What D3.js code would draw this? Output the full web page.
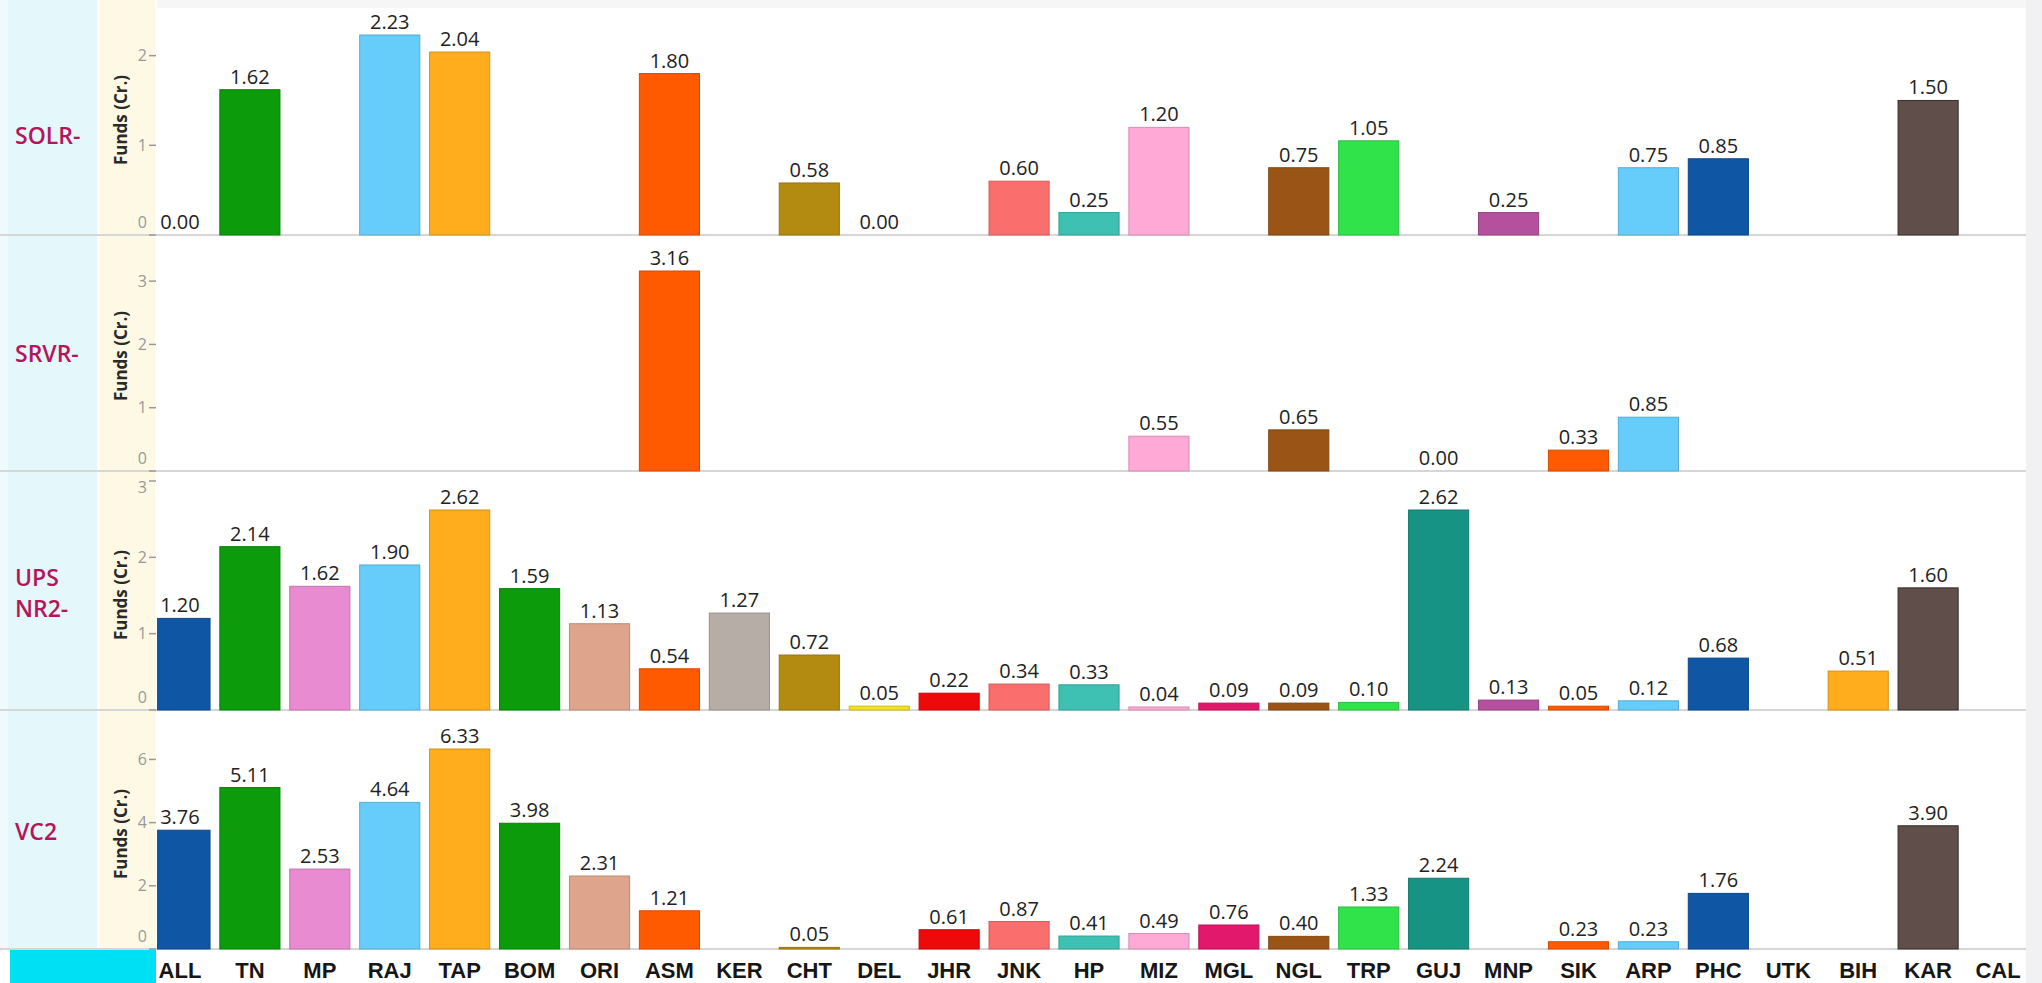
<!DOCTYPE html>
<html>
<head>
<meta charset="utf-8">
<script src="https://cdn.jsdelivr.net/npm/d3@7"></script>
<style>
  html, body { margin: 0; padding: 0; background: #ffffff; }
  svg { display: block; }
</style>
</head>
<body>
<svg id="chart" width="2042" height="983"></svg>
<script>
// ---------------- DATA ----------------
const categories = ["ALL","TN","MP","RAJ","TAP","BOM","ORI","ASM","KER","CHT","DEL","JHR","JNK","HP","MIZ","MGL","NGL","TRP","GUJ","MNP","SIK","ARP","PHC","UTK","BIH","KAR","CAL"];

const rowNames = ["SOLR-", "SRVR-", "UPS\nNR2-", "VC2"];

// null = no bar for that category
const solrValues = [0.00,1.62,null,2.23,2.04,null,null,1.80,null,0.58,0.00,null,0.60,0.25,1.20,null,0.75,1.05,null,0.25,null,0.75,0.85,null,null,1.50,null];
const srvrValues = [null,null,null,null,null,null,null,3.16,null,null,null,null,null,null,0.55,null,0.65,null,0.00,null,0.33,0.85,null,null,null,null,null];
const upsValues  = [1.20,2.14,1.62,1.90,2.62,1.59,1.13,0.54,1.27,0.72,0.05,0.22,0.34,0.33,0.04,0.09,0.09,0.10,2.62,0.13,0.05,0.12,0.68,null,0.51,1.60,null];
const vc2Values  = [3.76,5.11,2.53,4.64,6.33,3.98,2.31,1.21,null,0.05,null,0.61,0.87,0.41,0.49,0.76,0.40,1.33,2.24,null,0.23,0.23,1.76,null,null,3.90,null];

const solrTicks = [0,1,2];
const srvrTicks = [0,1,2,3];
const upsTicks  = [0,1,2,3];
const vc2Ticks  = [0,2,4,6];

const categoryColors = ["#0f56a4","#0b9b0b","#e98bd0","#66cdfb","#ffad1c","#0b9b0b","#dea58c","#ff5a00","#b6ada6","#b38b10","#f3e21c","#ee0a0a","#fb6e6e","#3ec0b2","#ffa9d6","#e2186c","#9a5516","#30e34b","#179384","#b5509f","#ff5a00","#66cdfb","#0f56a4","#888888","#ffad1c","#5f4e49","#888888"];

const yAxisTitle = "Funds (Cr.)";

// ---------------- LAYOUT ----------------
const W = 2042, H = 983;
const plotLeft = 157, plotRight = 2026;
const baselines = [235, 471, 710, 949];
const panelH = 240;

const svg = d3.select("#chart");

// backgrounds
svg.append("rect").attr("x",0).attr("y",0).attr("width",W).attr("height",H).attr("fill","#ffffff");
svg.append("rect").attr("x",0).attr("y",0).attr("width",97).attr("height",949).attr("fill","#e4f7fb");
svg.append("rect").attr("x",0).attr("y",0).attr("width",8).attr("height",949).attr("fill","#eefafc");
svg.append("rect").attr("x",100).attr("y",0).attr("width",55).attr("height",949).attr("fill","#fdf9e4");
svg.append("rect").attr("x",plotLeft).attr("y",0).attr("width",plotRight-plotLeft).attr("height",8).attr("fill","#f6f6f6");
svg.append("rect").attr("x",plotRight).attr("y",0).attr("width",W-plotRight).attr("height",H).attr("fill","#f1f1f3");
svg.append("rect").attr("x",10).attr("y",950).attr("width",146).attr("height",33).attr("fill","#00e0f4");

const x = d3.scaleBand().domain(categories).range([145, 2033]).paddingInner(0.14).paddingOuter(0.07);

svg.append("defs").append("clipPath").attr("id","plotclip")
  .append("rect").attr("x",plotLeft).attr("y",0).attr("width",plotRight-plotLeft).attr("height",H);

const panels = [
  {name: rowNames[0], values: solrValues, ticks: solrTicks},
  {name: rowNames[1], values: srvrValues, ticks: srvrTicks},
  {name: rowNames[2], values: upsValues,  ticks: upsTicks},
  {name: rowNames[3], values: vc2Values,  ticks: vc2Ticks}
];

panels.forEach((p, i) => {
  const base = baselines[i];
  const top = base - panelH;
  const maxV = d3.max(p.values.filter(v => v !== null));
  const y = d3.scaleLinear().domain([0, maxV * 1.2]).range([base, top]);

  // separator line
  svg.append("line").attr("x1",0).attr("x2",plotRight).attr("y1",base).attr("y2",base)
    .attr("stroke","#d6d6d6").attr("stroke-width",2);

  const g = svg.append("g");
  const barsG = g.append("g").attr("clip-path","url(#plotclip)");
  const data = categories.map((c, k) => ({cat: c, v: p.values[k], color: categoryColors[k]})).filter(d => d.v !== null);

  barsG.selectAll("rect.bar").data(data).join("rect")
    .attr("class","bar")
    .attr("x", d => x(d.cat))
    .attr("width", x.bandwidth())
    .attr("y", d => y(d.v))
    .attr("height", d => Math.max(0, base - y(d.v)))
    .attr("fill", d => d.color)
    .attr("stroke", d => d3.color(d.color).darker(d.cat === "KAR" ? 1.5 : 0.5))
    .attr("stroke-width", d => d.v > 0 ? 1 : 0);

  barsG.selectAll("text.val").data(data).join("text")
    .attr("class","val")
    .attr("x", d => x(d.cat) + x.bandwidth()/2)
    .attr("y", d => y(d.v) - 6)
    .attr("text-anchor","middle")
    .attr("font-family","'Open Sans', 'Noto Sans', sans-serif")
    .attr("font-size", 20)
    .attr("fill","#222222")
    .text(d => d3.format(".2f")(d.v));

  // y ticks
  const tg = g.append("g");
  p.ticks.forEach(t => {
    const ty = y(t);
    tg.append("line").attr("x1",149).attr("x2",156).attr("y1",ty).attr("y2",ty)
      .attr("stroke","#9a9a9a").attr("stroke-width",1.5);
    const ly = Math.min(Math.max(ty, top + 17), base - 13);
    tg.append("text")
      .attr("x",147).attr("y",ly).attr("dy","0.35em")
      .attr("text-anchor","end")
      .attr("font-family","'Open Sans', 'Noto Sans', sans-serif")
      .attr("font-size",16)
      .attr("fill","#999999")
      .text(t);
  });

  // axis title
  const ay = base - 115;
  g.append("text")
    .attr("transform", `translate(127,${ay}) rotate(-90)`)
    .attr("text-anchor","middle")
    .attr("font-family","'Open Sans', 'Noto Sans', sans-serif")
    .attr("font-weight",700)
    .attr("font-size",17)
    .attr("fill","#2a2a2a")
    .text(yAxisTitle);

  // row label
  const ry = (Math.max(top, 30) + base)/2 + 3;
  const lines = p.name.split("\n");
  const rt = g.append("text")
    .attr("x",15)
    .attr("font-family","'Open Sans', 'Noto Sans', sans-serif")
    .attr("font-weight",600)
    .attr("font-size",23)
    .attr("fill","#b5155b");
  lines.forEach((ln, k) => {
    rt.append("tspan").attr("x",15)
      .attr("y", ry + (k - (lines.length-1)/2) * 31)
      .attr("dy","0.35em")
      .text(ln);
  });
});

// category labels
svg.append("g").selectAll("text.cat").data(categories).join("text")
  .attr("class","cat")
  .attr("x", d => x(d) + x.bandwidth()/2)
  .attr("y", 970)
  .attr("dy","0.35em")
  .attr("text-anchor","middle")
  .attr("font-family","'Liberation Sans Narrow', 'Arial Narrow', 'Liberation Sans', sans-serif")
  .attr("font-weight",700)
  .attr("font-size",22)
  .attr("fill","#161616")
  .text(d => d);
</script>
</body>
</html>
